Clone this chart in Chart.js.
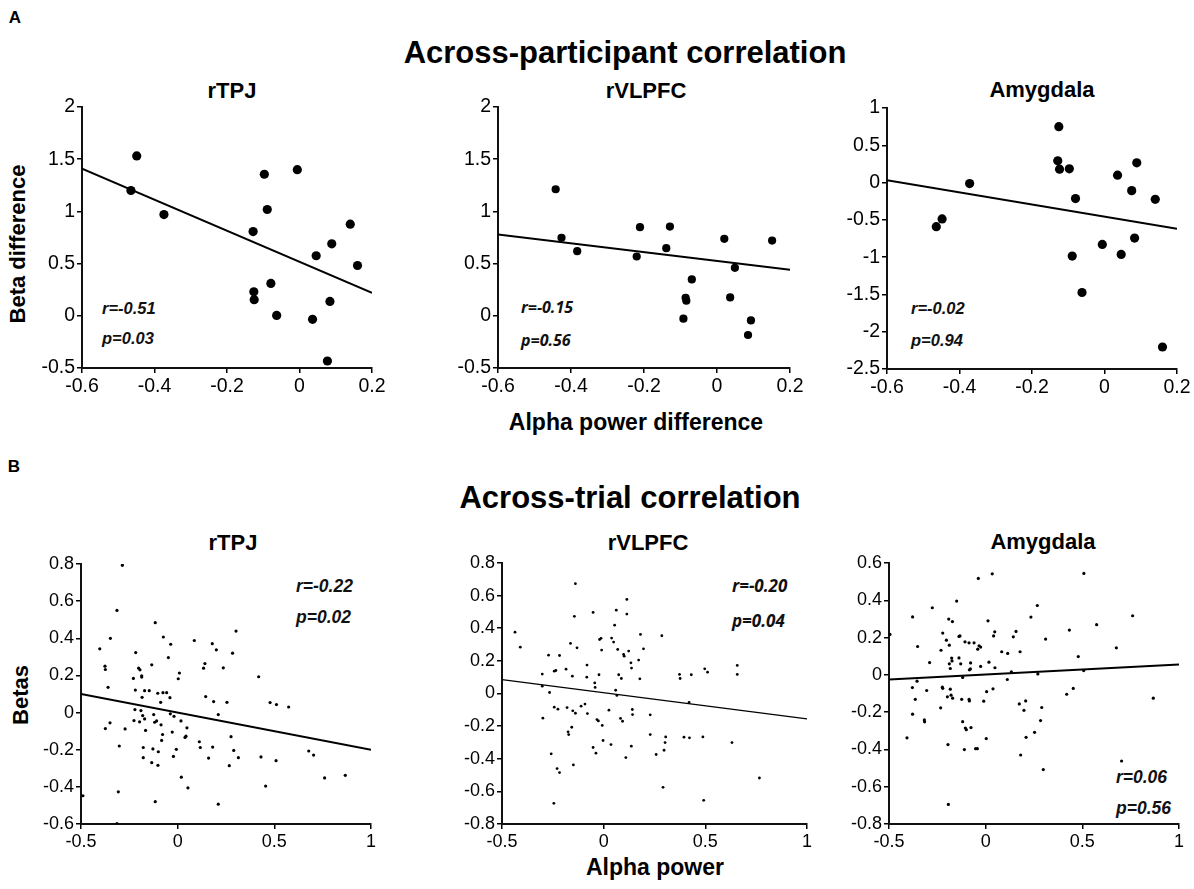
<!DOCTYPE html>
<html><head><meta charset="utf-8">
<script src="https://cdn.jsdelivr.net/npm/chart.js@4.4.1/dist/chart.umd.min.js"></script>
<style>
body{margin:0;background:#fff;width:1194px;height:889px;position:relative;overflow:hidden;font-family:"Liberation Sans",Arial,sans-serif;}
.t{position:absolute;transform:translate(-50%,-50%);white-space:nowrap;color:#000;font-weight:bold;line-height:1;}
.r{position:absolute;transform:translate(-50%,-50%) rotate(-90deg);white-space:nowrap;color:#000;font-weight:bold;line-height:1;}
.s{position:absolute;transform:translateY(-50%);white-space:nowrap;font-weight:bold;font-style:italic;color:#111;line-height:1;}
canvas{position:absolute;}
</style></head><body>
<div class="t" style="left:15px;top:17px;font-size:17px;">A</div>
<div class="t" style="left:625px;top:52px;font-size:31px;">Across-participant correlation</div>
<div class="t" style="left:232px;top:91px;font-size:22px;">rTPJ</div>
<div class="t" style="left:646px;top:91px;font-size:22px;">rVLPFC</div>
<div class="t" style="left:1042px;top:90px;font-size:22px;">Amygdala</div>
<div class="r" style="left:18px;top:244px;font-size:22px;">Beta difference</div>
<div class="t" style="left:636px;top:422px;font-size:23px;">Alpha power difference</div>
<div class="t" style="left:14px;top:466px;font-size:17px;">B</div>
<div class="t" style="left:630px;top:497px;font-size:31px;">Across-trial correlation</div>
<div class="t" style="left:233px;top:543px;font-size:22px;">rTPJ</div>
<div class="t" style="left:648px;top:543px;font-size:22px;">rVLPFC</div>
<div class="t" style="left:1043px;top:542px;font-size:22px;">Amygdala</div>
<div class="r" style="left:21px;top:695px;font-size:22px;">Betas</div>
<div class="t" style="left:655px;top:867px;font-size:23px;">Alpha power</div>

<div class="s" style="left:102px;top:308px;font-size:16.5px;">r=-0.51</div>
<div class="s" style="left:102px;top:338px;font-size:16.5px;">p=0.03</div>
<div class="s" style="left:521px;top:307px;font-size:16px;font-family:'Open Sans',sans-serif;">r=-0.15</div>
<div class="s" style="left:521px;top:340px;font-size:16px;font-family:'Open Sans',sans-serif;">p=0.56</div>
<div class="s" style="left:911px;top:308px;font-size:16.5px;">r=-0.02</div>
<div class="s" style="left:911px;top:340px;font-size:16.5px;">p=0.94</div>
<div class="s" style="left:296px;top:587px;font-size:17.5px;">r=-0.22</div>
<div class="s" style="left:296px;top:618px;font-size:17.5px;">p=0.02</div>
<div class="s" style="left:732px;top:585px;font-size:17px;font-family:'Open Sans',sans-serif;">r=-0.20</div>
<div class="s" style="left:732px;top:620px;font-size:17px;font-family:'Open Sans',sans-serif;">p=0.04</div>
<div class="s" style="left:1116px;top:778px;font-size:17.5px;">r=0.06</div>
<div class="s" style="left:1116px;top:809px;font-size:17.5px;">p=0.56</div>

<script>
// ---- Tick labels ----
const xTicksA = [-0.6, -0.4, -0.2, 0, 0.2];
const yTicksA12 = [-0.5, 0, 0.5, 1, 1.5, 2];
const yTicksA3 = [-2.5, -2, -1.5, -1, -0.5, 0, 0.5, 1];
const xTicksB = [-0.5, 0, 0.5, 1];
const yTicksB1 = [-0.6, -0.4, -0.2, 0, 0.2, 0.4, 0.6, 0.8];
const yTicksB2 = [-0.8, -0.6, -0.4, -0.2, 0, 0.2, 0.4, 0.6, 0.8];
const yTicksB3 = [-0.8, -0.6, -0.4, -0.2, 0, 0.2, 0.4, 0.6];

// ---- A: across-participant (alpha power difference vs beta difference) ----
const xA1 = [-0.449,-0.465,-0.374,-0.128,-0.126,-0.125,-0.097,-0.089,-0.079,-0.063,-0.006,0.046,0.036,0.089,0.084,0.077,0.14,0.16];
const yA1 = [1.531,1.2,0.97,0.807,0.23,0.154,1.356,1.018,0.31,0.004,1.4,0.575,-0.034,0.689,0.138,-0.433,0.878,0.482];
const fitA1 = [[-0.6,1.41],[0.2,0.22]];

const xA2 = [-0.442,-0.426,-0.383,-0.22,-0.211,-0.139,-0.129,-0.086,-0.084,-0.092,-0.069,0.02,0.036,0.049,0.093,0.085,0.151];
const yA2 = [1.212,0.747,0.619,0.568,0.849,0.648,0.855,0.173,0.144,-0.028,0.348,0.737,0.176,0.46,-0.044,-0.184,0.721];
const fitA2 = [[-0.6,0.78],[0.2,0.44]];

const xA3 = [-0.464,-0.448,-0.372,-0.129,-0.126,-0.124,-0.097,-0.08,-0.089,-0.062,-0.006,0.036,0.046,0.075,0.089,0.083,0.14,0.16];
const yA3 = [-0.591,-0.488,-0.013,0.292,0.749,0.18,0.184,-0.215,-0.986,-1.474,-0.829,0.099,-0.963,-0.108,0.265,-0.744,-0.224,-2.205];
const fitA3 = [[-0.6,0.03],[0.2,-0.62]];

// ---- B: across-trial (alpha power vs betas) ----
const xB1 = [-0.286,-0.314,-0.403,-0.348,-0.376,-0.374,-0.36,-0.374,-0.35,-0.302,-0.307,-0.314,-0.49,-0.272,-0.217,-0.229,-0.219,-0.202,-0.195,-0.186,-0.186,-0.184,-0.221,-0.226,-0.19,-0.197,-0.181,-0.171,-0.166,-0.178,-0.178,-0.171,-0.147,-0.134,-0.116,-0.134,-0.128,-0.124,-0.119,-0.109,-0.1,-0.102,-0.116,-0.103,-0.088,-0.086,-0.078,-0.083,-0.074,-0.076,-0.057,-0.048,-0.036,-0.04,-0.038,-0.019,-0.028,-0.022,-0.007,0.003,0.009,0.017,0.019,0.038,0.043,0.048,0.053,0.086,0.112,0.117,0.134,0.141,0.145,0.16,0.179,0.181,0.186,0.2,0.21,0.21,0.236,0.255,0.267,0.276,0.284,0.29,0.302,0.314,0.419,0.478,0.511,0.574,0.431,0.509,0.455,0.678,0.703,0.76,0.867];
const yB1 = [0.793,0.55,0.343,0.4,0.25,0.232,0.136,-0.086,-0.055,-0.18,-0.427,-0.598,-0.448,-0.088,0.323,0.184,0.121,0.239,0.23,0.198,0.191,0.082,0.016,-0.043,0.011,-0.05,-0.016,-0.034,-0.096,-0.188,-0.243,0.118,0.118,0.257,0.484,-0.27,-0.196,-0.011,-0.052,-0.045,-0.211,-0.284,-0.48,0.104,0.055,-0.066,-0.118,-0.15,0.407,0.107,0.107,0.296,0.368,0.08,-0.007,-0.02,-0.105,-0.236,-0.198,0.182,0.213,-0.045,-0.348,-0.134,-0.127,-0.082,-0.405,0.388,-0.157,-0.188,0.239,0.264,0.086,-0.245,0.371,-0.186,0.059,0.338,-0.011,-0.493,0.241,0.055,-0.286,-0.13,0.32,-0.204,0.439,-0.243,0.193,0.054,0.043,0.03,-0.239,-0.259,-0.396,-0.207,-0.229,-0.352,-0.338];
const fitB1 = [[-0.5,0.1],[1,-0.2]];

const xB2 = [-0.436,-0.41,-0.302,-0.302,-0.299,-0.271,-0.266,-0.258,-0.243,-0.235,-0.243,-0.225,-0.217,-0.229,-0.217,-0.245,-0.185,-0.18,-0.175,-0.172,-0.163,-0.154,-0.152,-0.157,-0.144,-0.139,-0.139,-0.131,-0.149,-0.111,-0.092,-0.082,-0.083,-0.08,-0.052,-0.052,-0.044,-0.042,-0.038,-0.033,-0.023,-0.02,-0.013,-0.01,-0.026,-0.007,-0.003,0.026,0.036,0.039,0.049,0.054,0.062,0.069,0.059,0.065,0.074,0.087,0.083,0.093,0.098,0.101,0.109,0.114,0.114,0.123,0.141,0.142,0.136,0.134,0.137,0.172,0.178,0.181,0.196,0.229,0.229,0.258,0.286,0.292,0.297,0.302,0.305,0.373,0.376,0.395,0.422,0.42,0.431,0.488,0.492,0.497,0.511,0.631,0.657,0.657,0.766];
const yB2 = [0.376,0.284,0.119,0.045,-0.151,0.235,0.006,-0.37,0.137,0.141,-0.084,-0.096,0.233,-0.46,-0.485,-0.673,0.149,-0.086,-0.235,-0.252,0.307,0.106,-0.106,-0.207,0.473,0.673,-0.121,0.28,-0.438,-0.078,-0.065,0.174,0.1,-0.123,0.497,-0.331,0.065,0.037,-0.366,-0.16,0.115,0.331,0.338,0.266,-0.168,-0.196,-0.288,-0.102,-0.313,0.34,0.315,0.419,0.511,0.27,0.02,-0.012,0.115,0.092,-0.153,-0.17,0.239,0.229,-0.393,0.577,0.487,0.26,-0.098,-0.129,-0.323,0.188,0.156,0.205,0.09,0.362,0.274,-0.131,-0.252,-0.374,0.354,-0.575,-0.348,-0.301,-0.266,0.117,0.092,-0.268,-0.272,-0.055,0.115,-0.266,-0.655,0.151,0.131,-0.301,0.172,0.117,-0.518];
const fitB2 = [[-0.5,0.085],[1,-0.155]];

const xB3 = [-0.495,-0.378,-0.352,-0.379,-0.355,-0.364,-0.378,-0.407,-0.305,-0.317,-0.316,-0.29,-0.276,-0.231,-0.222,-0.224,-0.222,-0.233,-0.203,-0.188,-0.191,-0.172,-0.198,-0.195,-0.193,-0.188,-0.183,-0.176,-0.174,-0.183,-0.179,-0.171,-0.15,-0.138,-0.133,-0.138,-0.129,-0.124,-0.119,-0.119,-0.11,-0.105,-0.1,-0.107,-0.086,-0.084,-0.079,-0.086,-0.084,-0.076,-0.078,-0.06,-0.052,-0.043,-0.041,-0.038,-0.034,-0.026,-0.026,-0.01,0.003,0.005,0.012,0.017,0.034,0.038,0.041,0.047,0.048,0.083,0.114,0.112,0.133,0.143,0.157,0.178,0.174,0.181,0.198,0.207,0.209,0.234,0.508,0.267,0.31,0.433,0.574,0.76,0.676,0.479,0.27,0.507,0.419,0.453,0.867,0.29,0.284,0.253,0.298,0.703];
const yB3 = [0.217,0.311,0.152,-0.068,-0.034,-0.131,-0.211,-0.338,-0.084,-0.242,-0.252,0.066,0.36,0.132,0.224,-0.066,-0.072,-0.177,0.186,0.159,0.299,0.286,-0.118,-0.374,-0.695,0.059,0.034,0.09,0.075,-0.077,-0.109,-0.125,0.396,0.206,0.209,0.091,0.059,-0.131,-0.014,-0.251,-0.401,-0.285,-0.294,0.177,0.172,0.027,0.032,-0.132,-0.14,-0.283,0.064,0.172,-0.396,-0.396,0.138,0.517,0.156,0.149,0.045,-0.141,-0.342,-0.09,0.29,0.068,0.542,-0.075,0.209,0.231,0.038,0.124,0.115,-0.025,0.016,0.204,0.233,0.124,-0.156,-0.43,-0.19,-0.14,-0.335,0.31,0.544,0.372,0.192,0.24,0.269,0.317,0.145,0.098,0.005,0.023,-0.104,-0.073,-0.125,-0.175,-0.245,-0.308,-0.508,-0.462];
const fitB3 = [[-0.5,-0.025],[1,0.055]];

const FONT = '"Liberation Sans", Arial, sans-serif';

function panel(L, T, W, H, xs, ys, xT, yT, fit, r, lw, tickSize) {
  const padL = 72, padT = 14, padR = 26, padB = 38;
  const c = document.createElement('canvas');
  c.width = W + padL + padR; c.height = H + padT + padB;
  c.style.left = (L - padL) + 'px'; c.style.top = (T - padT) + 'px';
  c.style.width = c.width + 'px'; c.style.height = c.height + 'px';
  document.body.appendChild(c);
  const axisCommon = {
    type: 'linear',
    grid: {drawOnChartArea: false, drawTicks: true, tickLength: 5, color: '#000', lineWidth: 1.5},
    border: {display: true, color: '#111', width: 2},
    ticks: {color: '#000', font: {family: FONT, size: tickSize}, padding: 2, maxRotation: 0, autoSkip: false, callback: v => String(v)}
  };
  new Chart(c, {
    type: 'scatter',
    data: {datasets: [
      {data: xs.map((x, i) => ({x: x, y: ys[i]})), backgroundColor: '#000', borderColor: '#000', borderWidth: 0, pointRadius: r, pointHoverRadius: r},
      {data: fit.map(p => ({x: p[0], y: p[1]})), showLine: true, borderColor: '#000', borderWidth: lw, pointRadius: 0, pointHoverRadius: 0, fill: false}
    ]},
    options: {
      responsive: false, animation: false, devicePixelRatio: 1,
      layout: {padding: {left: 0, top: padT, right: padR, bottom: 0}},
      plugins: {legend: {display: false}, tooltip: {enabled: false}},
      events: [],
      scales: {
        x: Object.assign({}, axisCommon, {
          min: xT[0], max: xT[xT.length - 1],
          afterBuildTicks: s => { s.ticks = xT.map(v => ({value: v})); },
          afterFit: s => { s.height = padB; }
        }),
        y: Object.assign({}, axisCommon, {
          min: yT[0], max: yT[yT.length - 1],
          afterBuildTicks: s => { s.ticks = yT.map(v => ({value: v})); },
          afterFit: s => { s.width = padL; }
        })
      }
    }
  });
}

panel(82, 107, 290, 261, xA1, yA1, xTicksA, yTicksA12, fitA1, 4.6, 2, 19.5);
panel(498, 107, 292, 261, xA2, yA2, xTicksA, yTicksA12, fitA2, 4.1, 2, 19.5);
panel(887, 108, 290, 261, xA3, yA3, xTicksA, yTicksA3, fitA3, 4.6, 2, 19.5);
panel(81, 564, 290, 260, xB1, yB1, xTicksB, yTicksB1, fitB1, 1.6, 2, 18);
panel(502, 563, 305, 261, xB2, yB2, xTicksB, yTicksB2, fitB2, 1.4, 1.3, 18);
panel(889, 563, 290, 261, xB3, yB3, xTicksB, yTicksB3, fitB3, 1.6, 2, 18);
</script>
</body></html>
